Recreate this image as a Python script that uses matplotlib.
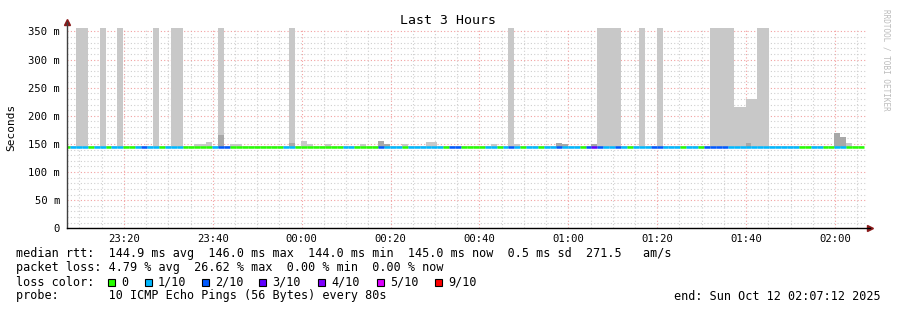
import matplotlib
matplotlib.use('Agg')
import matplotlib.pyplot as plt
import matplotlib.dates as mdates
from matplotlib.patches import Rectangle
from matplotlib.ticker import MultipleLocator, FuncFormatter
import numpy as np
from datetime import datetime, timedelta

# time window and 80s samples (first one is cut by the left edge)
start = datetime(2025, 10, 11, 23, 7, 12)
end = datetime(2025, 10, 12, 2, 7, 12)
first_step = datetime(2025, 10, 11, 23, 7, 52)
n_samples = 135

# lost pings out of 10, per sample
loss = [0, 1, 1, 1, 0, 1, 1, 0, 1, 1, 0, 0, 1, 2, 1,
        1, 0, 1, 1, 1, 0, 0, 0, 0, 0, 1, 2, 2, 0, 0,
        0, 0, 0, 0, 0, 0, 0, 1, 1, 0, 0, 0, 0, 0, 0,
        0, 0, 1, 1, 0, 0, 0, 0, 2, 1, 1, 1, 0, 1, 1,
        1, 1, 1, 1, 0, 2, 2, 0, 0, 0, 0, 1, 1, 0, 1,
        2, 1, 0, 1, 1, 0, 1, 1, 2, 1, 1, 1, 0, 2, 3,
        2, 1, 1, 2, 1, 0, 1, 1, 1, 2, 2, 1, 1, 1, 0,
        1, 1, 0, 2, 2, 2, 2, 1, 1, 1, 1, 1, 1, 1, 1,
        1, 1, 1, 1, 0, 0, 1, 1, 0, 0, 1, 1, 0, 0, 0]

# median rtt in ms
median = [145.0 if l == 0 else (144.6 if l == 1 else 144.0) for l in loss]

# smoke: highest ping (ms) per sample, 400 = off the chart
smoke_max = [147] * n_samples
for i in [2, 3, 6, 9, 15, 18, 19, 26, 38, 75, 90, 91, 92, 93, 97, 100,
          109, 110, 111, 112, 117, 118]:
    smoke_max[i] = 400
for i, v in {22: 150, 23: 150, 24: 154, 28: 149, 29: 149, 40: 156, 41: 150,
             44: 149, 50: 149, 53: 155, 54: 150, 57: 149, 61: 153, 62: 153,
             72: 150, 76: 149, 83: 152, 84: 150, 89: 150, 113: 216, 114: 216,
             115: 230, 116: 230, 130: 170, 131: 162, 132: 151}.items():
    smoke_max[i] = v

# denser part of the smoke (darker grey)
smoke_mid = {26: 165, 38: 152, 53: 155, 54: 150, 83: 152, 84: 150, 89: 150,
             115: 152, 130: 170, 131: 162}

loss_labels = ['0', '1/10', '2/10', '3/10', '4/10', '5/10', '9/10']
loss_colors = ['#26ff00', '#00b8ff', '#0059ff', '#5e00ff', '#7e00ff', '#dd00ff', '#ff0000']
loss_index = {0: 0, 1: 1, 2: 2, 3: 3, 4: 4, 5: 5, 9: 6}

W, H = 897, 310
fig = plt.figure(figsize=(W / 100, H / 100), dpi=100)
plt.rcParams['font.family'] = ['DejaVu Sans Mono']


def fpos(x, y):
    return x / W, 1 - y / H


ax = fig.add_axes([67 / W, 1 - 228.3 / H, 800 / W, (228.3 - 28) / H])

edges = [start] + [first_step + timedelta(seconds=80 * k) for k in range(n_samples)]
edges = mdates.date2num(edges)
left = edges[:-1]
width = np.diff(edges)
med = np.array(median)
lo = med - 1.5

ax.bar(left, np.array(smoke_max) - lo, bottom=lo, width=width, align='edge',
       color='#c8c8c8', linewidth=0, zorder=2)
mid_idx = sorted(smoke_mid)
ax.bar(left[mid_idx], np.array([smoke_mid[i] for i in mid_idx]) - lo[mid_idx],
       bottom=lo[mid_idx], width=width[mid_idx], align='edge',
       color='#a8a8a8', linewidth=0, zorder=3)

cols = [loss_colors[loss_index[l]] for l in loss]
ax.hlines(med, left, left + width, colors=cols, linewidth=1.8, capstyle='butt', zorder=4)

ax.set_xlim(mdates.date2num(start), mdates.date2num(end))
ax.set_ylim(0, 356)

ax.xaxis.set_major_locator(mdates.MinuteLocator(byminute=[0, 20, 40]))
ax.xaxis.set_minor_locator(mdates.MinuteLocator(byminute=range(0, 60, 5)))
ax.xaxis.set_major_formatter(mdates.DateFormatter('%H:%M'))
ax.yaxis.set_major_locator(MultipleLocator(50))
ax.yaxis.set_minor_locator(MultipleLocator(10))
ax.yaxis.set_major_formatter(FuncFormatter(lambda v, p: '0' if v == 0 else '%d m' % v))

ax.set_axisbelow(True)
ax.grid(which='minor', color='#cfcfcf', linestyle=(0, (1, 2)), linewidth=0.8)
ax.grid(which='major', color='#f2a0a0', linestyle=(0, (1, 2)), linewidth=0.8)
ax.tick_params(which='both', length=0, labelsize=7.6, colors='black')
ax.tick_params(axis='y', pad=5)
ax.tick_params(axis='x', pad=4)
for s in ax.spines.values():
    s.set_visible(False)

# axes with arrow heads
ax.plot([0, 0], [0, 1.03], transform=ax.transAxes, color='#404040', lw=1, clip_on=False, zorder=5)
ax.plot([0, 1.004], [0, 0], transform=ax.transAxes, color='black', lw=1, clip_on=False, zorder=5)
ax.plot([0], [1.03], marker='^', ms=4, color='#8b1a1a', transform=ax.transAxes, clip_on=False)
ax.plot([1.004], [0], marker='>', ms=4, color='#8b1a1a', transform=ax.transAxes, clip_on=False)

fig.text(*fpos(448, 20), 'Last 3 Hours', ha='center', va='center', fontsize=9.5)
fig.text(*fpos(11, 127), 'Seconds', ha='center', va='center', rotation=90, fontsize=8)
fig.text(*fpos(886, 60), 'RRDTOOL / TOBI OETIKER', ha='center', va='center',
         rotation=270, fontsize=5.5, color='#bbbbbb')

fs = 8.5
fig.text(*fpos(16, 254), 'median rtt:  144.9 ms avg  146.0 ms max  144.0 ms min  '
         '145.0 ms now  0.5 ms sd  271.5   am/s', va='center', fontsize=fs)
fig.text(*fpos(16, 268), 'packet loss: 4.79 % avg  26.62 % max  0.00 % min  0.00 % now',
         va='center', fontsize=fs)
fig.text(*fpos(16, 282), 'loss color:', va='center', fontsize=fs)
box_x = [108, 145, 202, 259, 318, 377, 435]
for bx, lab, c in zip(box_x, loss_labels, loss_colors):
    x0, y0 = fpos(bx, 285.5)
    fig.patches.append(Rectangle((x0, y0), 7 / W, 7 / H, transform=fig.transFigure,
                                 facecolor=c, edgecolor='black', linewidth=0.8))
    fig.text(*fpos(bx + 13, 282), lab, va='center', fontsize=fs)
fig.text(*fpos(16, 296), 'probe:       10 ICMP Echo Pings (56 Bytes) every 80s',
         va='center', fontsize=fs)
fig.text(*fpos(881, 296), 'end: Sun Oct 12 02:07:12 2025', ha='right', va='center', fontsize=fs)

fig.savefig('out.png', dpi=100, facecolor='white')
